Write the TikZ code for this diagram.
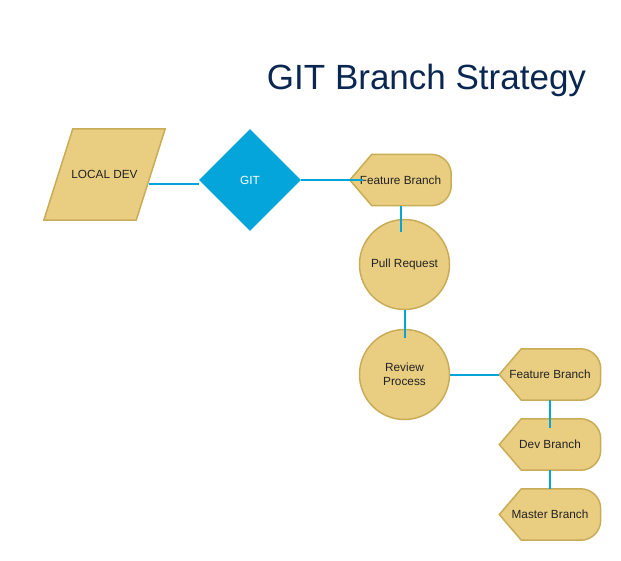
\documentclass[tikz,border=0pt]{standalone}
\usepackage{fontspec}
\setmainfont{Liberation Sans}
\usetikzlibrary{shapes.geometric,backgrounds}

\definecolor{gold}{RGB}{233,206,130}
\definecolor{goldline}{RGB}{201,172,88}
\definecolor{gitblue}{RGB}{4,165,219}
\definecolor{navy}{RGB}{10,39,81}
\definecolor{ink}{RGB}{34,34,34}

\tikzset{
  txt/.style={font=\fontsize{11.8}{14}\selectfont, text=ink, align=center},
  link/.style={draw=gitblue, line width=2pt},
  shapefill/.style={fill=gold, draw=goldline, line width=1.5pt},
  branch/.style={txt, minimum width=101pt, minimum height=51pt, inner sep=0pt},
  review/.style={txt, circle, shapefill, minimum size=90pt, inner sep=0pt},
  slant/.style={txt, minimum width=92pt, minimum height=91pt, inner sep=0pt},
}

\begin{document}
\begin{tikzpicture}[x=1pt, y=-1pt]
\useasboundingbox (0,0) rectangle (621,560);

\node[anchor=base, font=\fontsize{35}{40}\selectfont, text=navy] (title) at (426.5,89) {GIT Branch Strategy};

\node[slant] (local) at (104.5,174.5) {LOCAL DEV};
\node[diamond, aspect=1, fill=gitblue, minimum width=102pt, minimum height=102pt, inner sep=0pt,
  font=\fontsize{11.8}{14}\selectfont, text=white] (git) at (250,180) {GIT};

\node[branch] (feat) at (400.5,180) {Feature Branch};
\node[review] (pull) at (404.5,264.5) {Pull Request};
\node[review] (rev) at (404.5,374.5) {Review\\Process};

\node[branch] (feat2) at (550,374.5) {Feature Branch};
\node[branch] (dev) at (550,444.5) {Dev Branch};
\node[branch] (master) at (550,514.5) {Master Branch};

% outlines behind the text
\begin{scope}[on background layer]
\draw[shapefill] ([xshift=-14.5pt]local.south west) -- ([xshift=14.5pt]local.north west)
  -- ([xshift=14.5pt]local.north east) -- ([xshift=-14.5pt]local.south east) -- cycle;
\foreach \b in {feat,feat2,dev,master}
  \draw[shapefill] (\b.west) -- ([xshift=22pt]\b.north west)
    {[rounded corners=20pt] -- (\b.north east) -- (\b.south east)}
    -- ([xshift=22pt]\b.south west) -- cycle;
\end{scope}

% connectors
\draw[link] ([xshift=-2pt,yshift=-9.5pt]local.east) -- ([yshift=-4pt]git.west);
\draw[link] (git.east) -- ([xshift=13pt]feat.west);
\draw[link] (feat.south) -- ([yshift=-13pt]feat.south |- pull.north);
\draw[link] (pull.south) -- ([yshift=-9pt]pull.south |- rev.north);
\draw[link] (rev.east) -- (feat2.west);
\draw[link] (feat2.south) -- ([yshift=-9pt]dev.north);
\draw[link] (dev.south) -- (master.north);

\end{tikzpicture}
\end{document}
